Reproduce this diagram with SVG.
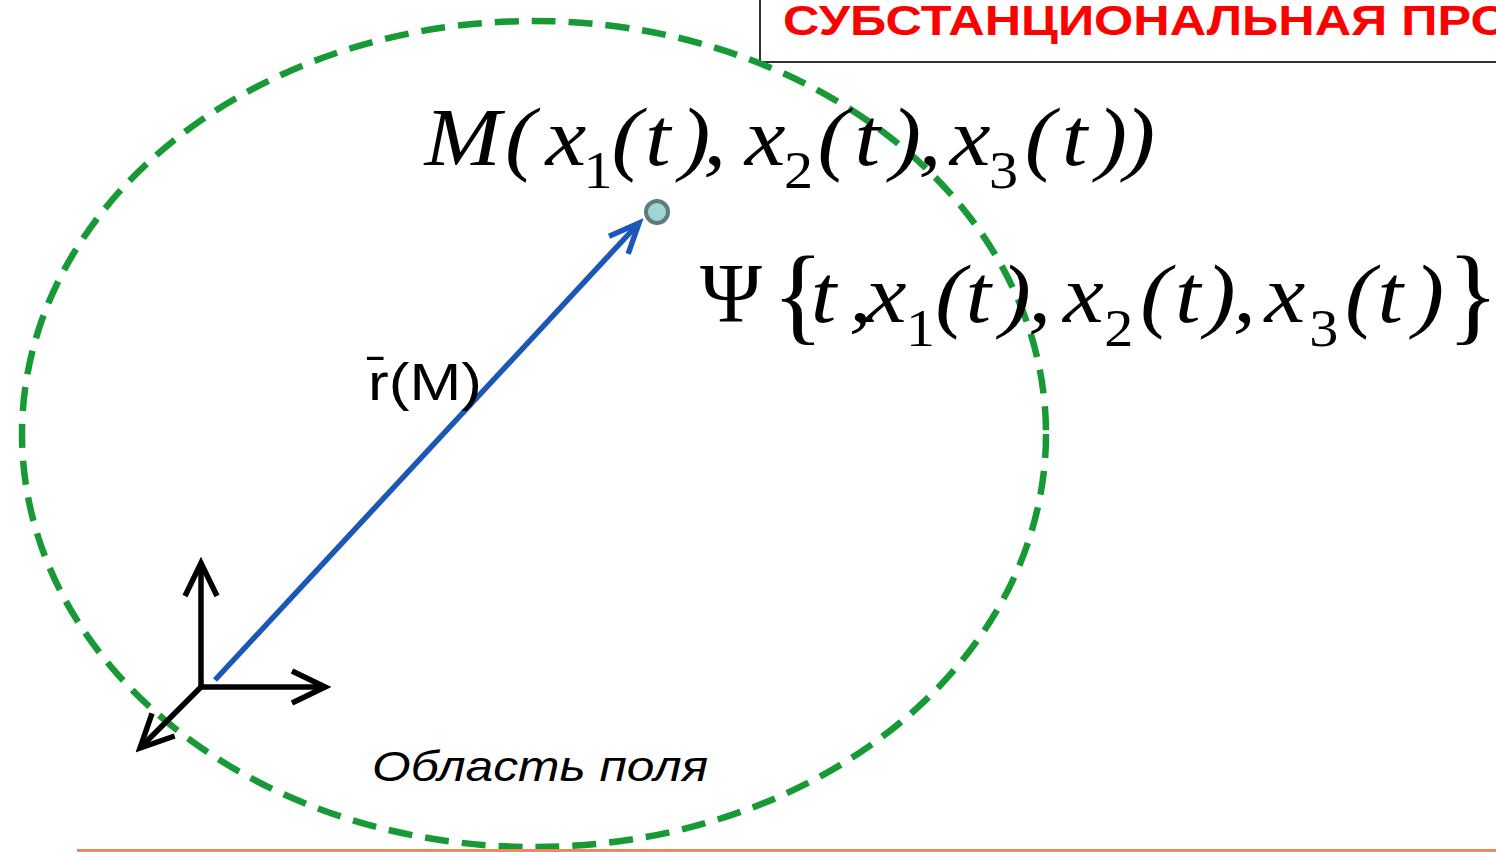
<svg xmlns="http://www.w3.org/2000/svg" width="1496" height="852" viewBox="0 0 1496 852">
<style>
.m{font-family:"Liberation Serif","Times New Roman",serif;fill:#000}
.i{font-style:italic}
.s{font-size:52px;font-style:normal}
.lbl{font-family:"Liberation Sans",Arial,sans-serif;fill:#000}
.ax{stroke:#000;stroke-width:5.5;fill:none}
</style>
<defs>
<marker id="hb" viewBox="-40 -22 46 44" markerWidth="46" markerHeight="44" refX="0" refY="0" orient="auto" markerUnits="userSpaceOnUse">
<path d="M-33,-16 L0,0 L-33,16" fill="none" stroke="#000" stroke-width="5.5" stroke-linejoin="miter"/>
</marker>
<marker id="hu" viewBox="-40 -22 46 44" markerWidth="46" markerHeight="44" refX="0" refY="0" orient="auto" markerUnits="userSpaceOnUse">
<path d="M-30,-13 L0,0 L-30,13" fill="none" stroke="#1c57b8" stroke-width="5.5" stroke-linejoin="miter"/>
</marker>
</defs>
<rect width="1496" height="852" fill="#fff"/>
<g id="title">
<path d="M760,0 V62 H1496" fill="none" stroke="#333" stroke-width="2"/>
<g transform="scale(1.2,1)"><text x="652.5" y="35" font-family="Liberation Sans,Arial,sans-serif" font-weight="bold" font-size="42" fill="#f00">СУБСТАНЦИОНАЛЬНАЯ ПРО</text></g>
</g>
<g id="field-region">
<ellipse cx="534" cy="434" rx="512" ry="413" fill="none" stroke="#179a36" stroke-width="6.5" stroke-dasharray="24 13"/>
<text class="lbl" x="372" y="781" font-size="43" font-style="italic" textLength="336" lengthAdjust="spacingAndGlyphs">Область поля</text>
</g>
<g id="connectors">
<line class="ax" x1="201" y1="687" x2="201" y2="563" marker-end="url(#hb)"/>
<line class="ax" x1="201" y1="687" x2="325" y2="687" marker-end="url(#hb)"/>
<line class="ax" x1="201" y1="687" x2="140" y2="748" marker-end="url(#hb)"/>
<line x1="215" y1="680" x2="639" y2="223" stroke="#1c57b8" stroke-width="5.5" marker-end="url(#hu)"/>
</g>
<g id="radius-label">
<text class="lbl" x="368" y="400" font-size="52" textLength="114" lengthAdjust="spacingAndGlyphs">r̄(M)</text>
</g>
<g id="point-M">
<circle cx="657" cy="212" r="11" fill="#9dd6d4" stroke="#5f7b7b" stroke-width="4"/>
</g>
<g id="formula-M" transform="scale(1.12,1)">
<text class="m i" font-size="82" y="165"><tspan x="379">M</tspan><tspan x="451">(</tspan><tspan x="487">x</tspan><tspan class="s" x="521" y="188">1</tspan><tspan x="546" y="165">(</tspan><tspan x="576">t</tspan><tspan x="607">)</tspan><tspan x="628">,</tspan><tspan x="665">x</tspan><tspan class="s" x="700" y="188">2</tspan><tspan x="730" y="165">(</tspan><tspan x="763">t</tspan><tspan x="795">)</tspan><tspan x="820">,</tspan><tspan x="848">x</tspan><tspan class="s" x="883" y="188">3</tspan><tspan x="915" y="165">(</tspan><tspan x="948">t</tspan><tspan x="979">)</tspan><tspan x="1004">)</tspan></text>
</g>
<g id="formula-Psi">
<text class="m" x="700" y="322" font-size="84">Ψ</text>
<text class="m" x="772" y="331" font-size="108">{</text>
<text class="m" x="1447" y="331" font-size="108">}</text>
<g transform="scale(1.12,1)">
<text class="m i" font-size="82" y="322"><tspan x="724">t</tspan><tspan x="758">,</tspan><tspan x="773">x</tspan><tspan class="s" x="809" y="346">1</tspan><tspan x="835" y="322">(</tspan><tspan x="862">t</tspan><tspan x="893">)</tspan><tspan x="918">,</tspan><tspan x="949">x</tspan><tspan class="s" x="986" y="346">2</tspan><tspan x="1018" y="322">(</tspan><tspan x="1049">t</tspan><tspan x="1076">)</tspan><tspan x="1101">,</tspan><tspan x="1129">x</tspan><tspan class="s" x="1169" y="346">3</tspan><tspan x="1201" y="322">(</tspan><tspan x="1230">t</tspan><tspan x="1262">)</tspan></text>
</g>
</g>
<line x1="77" y1="850.5" x2="1496" y2="850.5" stroke="#f08a5d" stroke-width="3"/>
</svg>
